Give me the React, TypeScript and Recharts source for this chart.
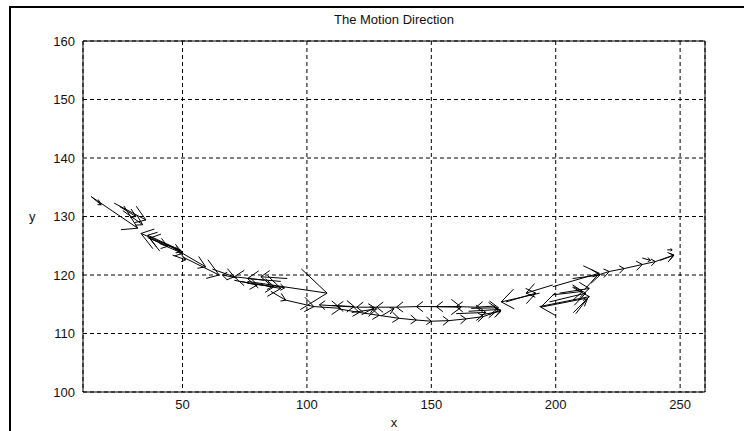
import React from 'react';
import { LineChart, Line, XAxis, YAxis, CartesianGrid, ReferenceArea } from 'recharts';

// Quiver arrows: start point (arrowX, arrowY) and displacement (arrowU, arrowV)
const arrowX = [
  13.3, 13.3, 22.5, 24.7, 26, 48.7, 47.3, 50, 40.7, 36, 46, 50, 50, 44, 46.5,
  62, 82.8, 89.5, 92.1, 73.5, 76.1, 70.8, 76.1, 85.5, 91.5, 102.8, 80, 86, 72,
  120, 128, 136, 144, 152, 160, 168, 176, 112, 110, 150, 166,
  113, 121, 129, 137, 144, 150, 157, 164, 171, 160, 165, 170, 118, 122, 130,
  193.5, 198.8, 198.8, 193.5, 197.5, 198.8, 201.5, 208.1, 206.8, 212, 180,
  214.8, 221.5, 227.5, 234.8, 240.1, 234.8, 244.8, 242,
];
const arrowY = [
  133.4, 133.4, 132.3, 131.7, 131, 124.3, 124.6, 124, 125.4, 126.4, 123.4, 123.7, 123.1, 125.2, 124.8,
  121, 119.1, 118.9, 119.4, 118.9, 118.6, 119.1, 118.9, 117.2, 115.7, 114.6, 118.5, 118.2, 119.5,
  114.5, 114.5, 114.5, 114.6, 114.6, 114.6, 114.5, 114.7, 114.7, 114.8, 114.6, 114.3,
  114.2, 113.6, 113.1, 112.6, 112.3, 112.1, 112.2, 112.5, 112.9, 113.4, 113.8, 113.2, 113.6, 113.2, 113,
  116.9, 118.3, 118, 114.6, 115.4, 116.6, 116.9, 113.4, 119.4, 116, 115.4,
  119.7, 120.6, 121.1, 121.8, 122.3, 122.9, 124.3, 122.5,
];
const arrowU = [
  18.7, 4, 12.8, 6.6, 8, -15.4, -11.3, -13.3, 9.3, 8, 5.3, 9.3, 14.7, 5, 3.5,
  8.8, -12, -13.4, -10.6, 16, 10.7, 9.3, 32, 6, 11.3, 10.7, 6, 5, -6,
  -8, -8, -8, -8, -8, -8, -8, -8, -7, 9, 12, 11,
  8, 8, 8, 7, 6, 7, 7, 7, 7, 12, 12, 8, 10, 5, 5,
  -15.4, -10.7, 18.7, 20, 14.6, 12, 12, 4.7, 11, -18, 12,
  6.7, 6, 7.3, 5.3, 7.4, 3.3, 2, 5.5,
];
const arrowV = [
  -5.4, -1.4, -2.9, -1.7, -2.4, 2.8, 2.2, 2.3, -1.7, -1.5, -0.8, -2.3, -3.1, -1.3, -1.2,
  -1.3, 0.6, 0.5, 0.3, -1.2, -0.6, -0.8, -2.0, -1.5, -1.1, -0.3, -0.5, -0.4, 0.5,
  0.2, 0, 0, -0.1, 0, 0, 0.1, -0.2, 0.2, -0.2, -0.1, 0.1,
  -0.6, -0.5, -0.5, -0.3, -0.2, 0.1, 0.3, 0.4, 1.1, 0.2, 0.3, 0.6, 0.6, 1.2, 1.3,
  -1.5, -1.4, 2.3, 1.7, 1.5, 0.6, 0.8, 2.6, 0.6, -1.5, 1.5,
  0.9, 0.5, 0.7, 0.5, 1.1, -0.4, 0, 0.9,
];

const xTicks = [50, 100, 150, 200, 250];
const yTicks = [100, 110, 120, 130, 140, 150, 160];

// MATLAB quiver arrow-head proportions
const ALPHA = 0.33;
const BETA = 0.33;

type Row = { x: number; y: number | null };

function buildRows(): Row[] {
  const rows: Row[] = [];
  for (let i = 0; i < arrowX.length; i++) {
    const x = arrowX[i];
    const y = arrowY[i];
    const u = arrowU[i];
    const v = arrowV[i];
    const tx = x + u;
    const ty = y + v;
    rows.push({ x, y }, { x: tx, y: ty }, { x: tx, y: null });
    rows.push(
      { x: tx - ALPHA * (u + BETA * v), y: ty - ALPHA * (v - BETA * u) },
      { x: tx, y: ty },
      { x: tx - ALPHA * (u - BETA * v), y: ty - ALPHA * (v + BETA * u) },
      { x: tx, y: null },
    );
  }
  return rows;
}

const rows = buildRows();
const FONT = '"Liberation Sans", Arial, sans-serif';

export default function App() {
  return (
    <div style={{ position: 'absolute', left: 0, top: 0, width: 744, height: 431, background: '#fff', overflow: 'hidden' }}>
      <div
        style={{
          position: 'absolute', left: 9, top: 6, width: 760, height: 440,
          borderLeft: '2px solid #000', borderTop: '2px solid #000',
        }}
      />
      <div
        style={{
          position: 'absolute', left: 0, top: 12, width: 788, textAlign: 'center',
          fontFamily: FONT, fontSize: 13, color: '#111',
        }}
      >
        The Motion Direction
      </div>
      <div style={{ position: 'absolute', left: 0, top: 0 }}>
        <LineChart width={744} height={431} data={rows} margin={{ top: 41, right: 39, bottom: 0, left: 0 }}>
          <CartesianGrid stroke="#000" strokeDasharray="4 3" strokeWidth={1} />
          <XAxis
            dataKey="x"
            type="number"
            domain={[10, 260]}
            ticks={xTicks}
            allowDataOverflow
            axisLine={false}
            tickLine={false}
            height={39}
            tick={{ fill: '#111', fontSize: 13, fontFamily: FONT }}
            label={{ value: 'x', position: 'insideBottom', offset: 4, fill: '#111', fontSize: 13, fontFamily: FONT }}
          />
          <YAxis
            type="number"
            domain={[100, 160]}
            ticks={yTicks}
            allowDataOverflow
            axisLine={false}
            tickLine={false}
            width={83}
            tick={{ fill: '#111', fontSize: 13, fontFamily: FONT }}
            label={{ value: 'y', position: 'insideLeft', offset: 29, fill: '#111', fontSize: 13, fontFamily: FONT }}
          />
          <ReferenceArea x1={10} x2={260} y1={100} y2={160} fill="none" stroke="#000" strokeWidth={1} ifOverflow="visible" />
          <Line
            dataKey="y"
            stroke="#000"
            strokeWidth={1}
            dot={false}
            activeDot={false}
            connectNulls={false}
            isAnimationActive={false}
            type="linear"
          />
        </LineChart>
      </div>
    </div>
  );
}
